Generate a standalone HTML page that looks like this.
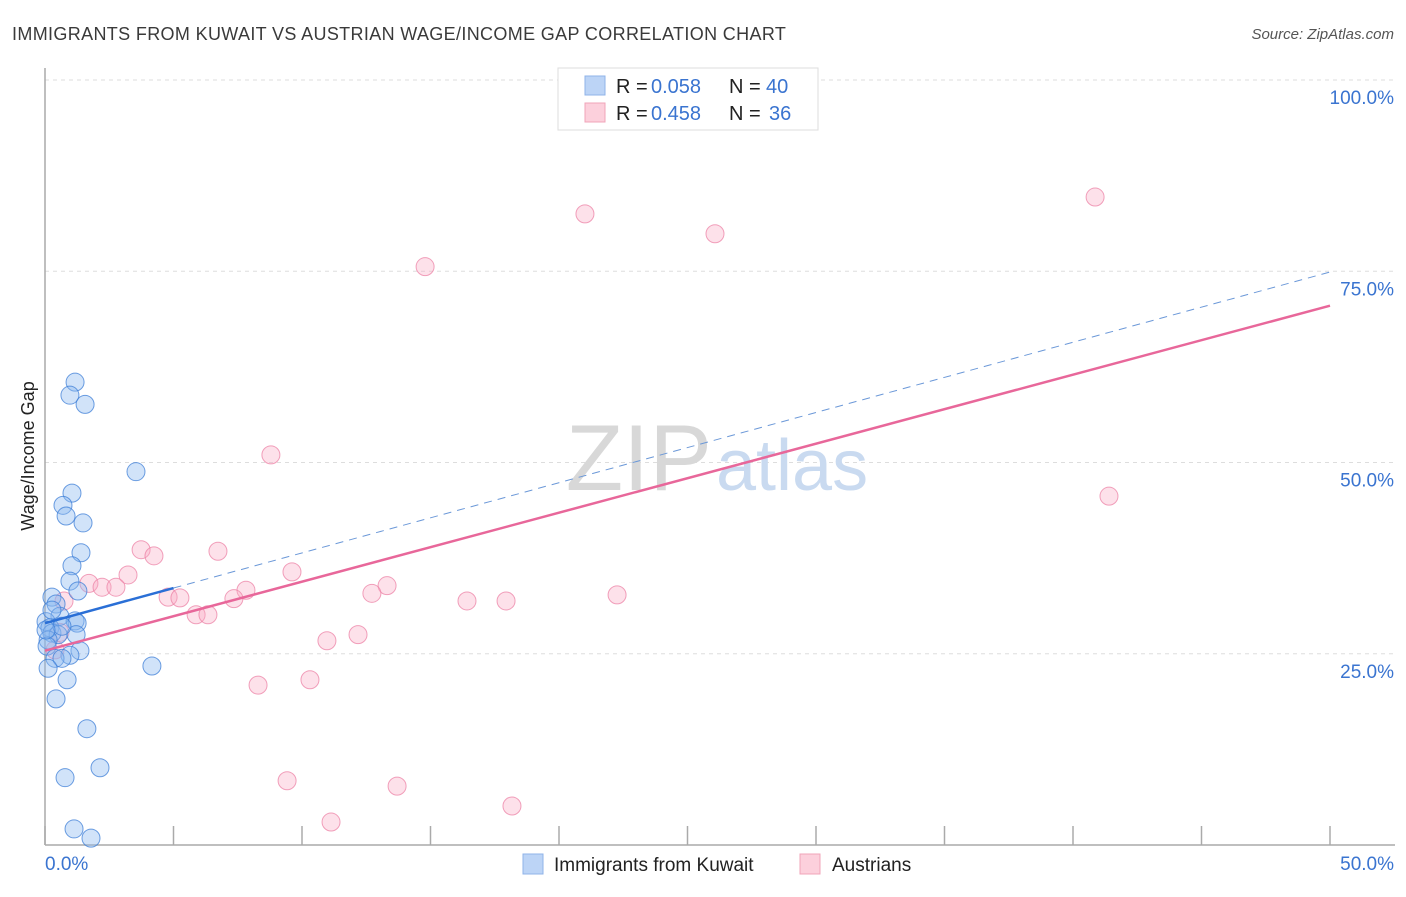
<!DOCTYPE html>
<html><head><meta charset="utf-8"><style>
body{margin:0;background:#fff;font-family:"Liberation Sans",sans-serif;}
svg text{font-family:"Liberation Sans",sans-serif;}
</style></head><body>
<svg id="chart" width="1406" height="892" viewBox="0 0 1406 892">
<text x="12" y="40" font-size="18" fill="#3a3a3a" letter-spacing="0.35">IMMIGRANTS FROM KUWAIT VS AUSTRIAN WAGE/INCOME GAP CORRELATION CHART</text>
<text x="1394" y="39" font-size="15" fill="#555" font-style="italic" text-anchor="end">Source: ZipAtlas.com</text>
<g id="grid"></g>
<text x="712" y="490" font-size="94" fill="#d8d8d8" text-anchor="end" font-family="Liberation Serif">ZIP</text>
<text x="716" y="490" font-size="72" fill="#c9daf0">atlas</text>
<line x1="45" y1="68" x2="45" y2="845" stroke="#aaa" stroke-width="1.5"/>
<line x1="45" y1="845" x2="1395" y2="845" stroke="#aaa" stroke-width="1.5"/>
<g id="xticks"></g>
<text x="34" y="456" font-size="18" fill="#222" text-anchor="middle" transform="rotate(-90 34 456)">Wage/Income Gap</text>
<text x="45" y="870" font-size="19" fill="#3a74d0">0.0%</text>
<text x="1394" y="870" font-size="19" fill="#3a74d0" text-anchor="end">50.0%</text>
<g id="ylabels"></g>
<g id="marks"></g>
<g id="trends"></g>
<g>
<rect x="558" y="68" width="260" height="62" fill="#fff" stroke="#ddd"/>
<rect x="585" y="76" width="20" height="19" fill="#bcd4f6" stroke="#8fb3e8"/>
<rect x="585" y="103" width="20" height="19" fill="#fcd0dc" stroke="#f0a4b9"/>
<text x="616" y="93" font-size="20" fill="#222">R =</text>
<text x="651" y="93" font-size="20" fill="#3a74d0">0.058</text>
<text x="729" y="93" font-size="20" fill="#222">N =</text>
<text x="766" y="93" font-size="20" fill="#3a74d0">40</text>
<text x="616" y="120" font-size="20" fill="#222">R =</text>
<text x="651" y="120" font-size="20" fill="#3a74d0">0.458</text>
<text x="729" y="120" font-size="20" fill="#222">N =</text>
<text x="769" y="120" font-size="20" fill="#3a74d0">36</text>
</g>
<g>
<rect x="523" y="854" width="20" height="20" fill="#bcd4f6" stroke="#8fb3e8"/>
<text x="554" y="871" font-size="19" fill="#222">Immigrants from Kuwait</text>
<rect x="800" y="854" width="20" height="20" fill="#fcd0dc" stroke="#f0a4b9"/>
<text x="832" y="871" font-size="19" fill="#222">Austrians</text>
</g>
</svg>
<script>
const yTicks=[25,50,75,100];
const yTickLabels=["25.0%","50.0%","75.0%","100.0%"];
const xTickVals=[0,5,10,15,20,25,30,35,40,45,50];
const kuwaitX=[1.17,0.97,1.56,3.54,1.05,0.70,0.82,1.48,1.40,1.05,0.97,1.28,0.27,0.43,0.58,0.04,0.19,0.27,0.51,1.17,1.25,1.21,0.12,0.08,1.36,0.97,0.39,0.66,0.12,4.16,0.86,0.43,1.63,0.78,2.14,1.13,1.79,0.27,0.66,0.04];
const kuwaitY=[60.5,58.8,57.6,48.8,46.0,44.4,43.0,42.1,38.2,36.5,34.5,33.2,32.4,31.5,29.9,29.2,28.4,27.7,27.5,29.3,29.0,27.5,26.8,26.0,25.4,24.8,24.4,24.4,23.1,23.4,21.6,19.1,15.2,8.8,10.1,2.1,0.9,30.7,28.6,28.1];
const austX=[40.86,21.01,26.07,14.79,8.79,41.40,3.74,6.73,4.24,9.61,3.23,1.71,2.22,2.76,7.82,13.31,4.79,5.25,7.35,12.72,22.26,16.42,17.94,5.88,6.34,0.74,12.18,10.97,8.29,10.31,9.42,13.70,11.13,18.17,0.58,0.39];
const austY=[84.7,82.5,79.9,75.6,51.0,45.6,38.6,38.4,37.8,35.7,35.3,34.2,33.7,33.7,33.3,33.9,32.4,32.3,32.2,32.9,32.7,31.9,31.9,30.1,30.1,31.9,27.5,26.7,20.9,21.6,8.4,7.7,3.0,5.1,27.8,25.5];
const kuwaitTrend=[29.0,74.9];
const austTrend=[25.4,70.5];
const kuwaitSolidEnd=5;
const NS="http://www.w3.org/2000/svg";
const sx=v=>45+v*25.7, sy=v=>845-v*7.65;
function mk(t,a,p){const e=document.createElementNS(NS,t);for(const k in a)e.setAttribute(k,a[k]);document.getElementById(p).appendChild(e);return e;}
yTicks.forEach((t,i)=>{
 const l=mk('line',{x1:45,x2:1395,y1:sy(t),y2:sy(t),stroke:'#ddd','stroke-dasharray':'4,4'},'grid');
 
 
 const tx=mk('text',{x:1394,y:sy(t)+24,'font-size':19,fill:'#3a74d0','text-anchor':'end'},'ylabels');
 tx.textContent=yTickLabels[i];
 
 
});
xTickVals.forEach(t=>{
 const l=mk('line',{x1:sx(t),x2:sx(t),y1:826,y2:845,stroke:'#aaa','stroke-width':1.5},'xticks');
 
 
});
austX.forEach((x,i)=>{
 const c=mk('circle',{cx:sx(x),cy:sy(austY[i]),r:9,fill:'rgba(248,170,195,0.35)',stroke:'rgba(236,130,165,0.75)','stroke-width':1},'marks');
 
 
});
kuwaitX.forEach((x,i)=>{
 const c=mk('circle',{cx:sx(x),cy:sy(kuwaitY[i]),r:9,fill:'rgba(140,185,240,0.4)',stroke:'rgba(60,125,215,0.75)','stroke-width':1},'marks');
 
 
});
const kAt=x=>kuwaitTrend[0]+(kuwaitTrend[1]-kuwaitTrend[0])*x/50;
let l1=mk('line',{x1:sx(kuwaitSolidEnd),y1:sy(kAt(kuwaitSolidEnd)),x2:sx(50),y2:sy(kAt(50)),stroke:'#6b98d8','stroke-width':1,'stroke-dasharray':'8,6'},'trends');


let l2=mk('line',{x1:sx(0),y1:sy(kAt(0)),x2:sx(kuwaitSolidEnd),y2:sy(kAt(kuwaitSolidEnd)),stroke:'#2a6fd6','stroke-width':2.5},'trends');


let l3=mk('line',{x1:sx(0),y1:sy(austTrend[0]),x2:sx(50),y2:sy(austTrend[1]),stroke:'#e8679a','stroke-width':2.5},'trends');


</script>
</body></html>
